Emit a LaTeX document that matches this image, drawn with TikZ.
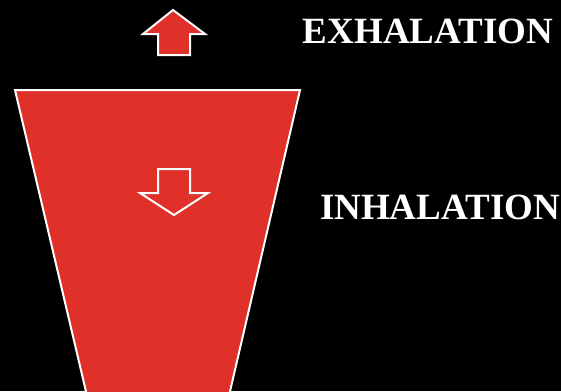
\documentclass[tikz,border=0pt]{standalone}
\usepackage{fontspec}
\setmainfont{Liberation Serif}
\usetikzlibrary{positioning}
\definecolor{lungred}{HTML}{E0302A}

\begin{document}
\begin{tikzpicture}[x=1pt, y=-1pt, font=\bfseries\fontsize{37}{40}\selectfont,
  outline/.style={draw=white, line width=2pt, line join=miter},
  label/.style={text=white, inner sep=0pt}]
  % Pozadi
  \fill[black] (0,0) rectangle (561,391);
  \useasboundingbox (0,0) rectangle (561,391);
  \clip (0,0) rectangle (561,391);

  % Plice
  \draw[outline, fill=lungred] (15,90) -- (300,90) -- (228,400) -- (88,400) -- cycle;

  % Sipky
  \draw[outline, fill=lungred] (158,55) -- (158,34) -- (143,34) -- (173,10) -- (205,34) -- (190,34) -- (190,55) -- cycle;
  \draw[outline] (158,169) -- (190,169) -- (190,193) -- (208,193) -- (174,215) -- (140,193) -- (158,193) -- cycle;

  % Popisky
  \node[label] (exhale) at (428,31) {EXHALATION};
  \node[label] (inhale) at (440,207) {INHALATION};
\end{tikzpicture}
\end{document}
